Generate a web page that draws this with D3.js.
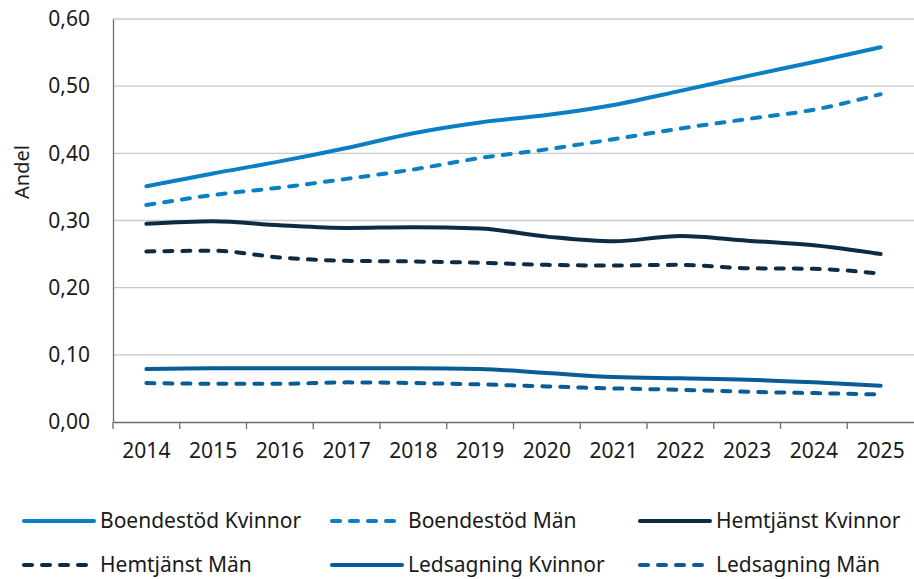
<!DOCTYPE html>
<html>
<head>
<meta charset="utf-8">
<script src="https://cdn.jsdelivr.net/npm/d3@7"></script>
<style>
  body { margin: 0; background: #fff; }
  text { font-family: "Noto Sans", "Open Sans", sans-serif; fill: #1a1a1a; }
</style>
</head>
<body>
<div id="chart"></div>
<script>
const years = ['2014','2015','2016','2017','2018','2019','2020','2021','2022','2023','2024','2025'];
const yTicks = [0, 0.1, 0.2, 0.3, 0.4, 0.5, 0.6];

const boendestodKvinnor = [0.351, 0.370, 0.388, 0.408, 0.430, 0.446, 0.457, 0.472, 0.493, 0.515, 0.536, 0.558];
const boendestodMan     = [0.323, 0.338, 0.349, 0.362, 0.376, 0.393, 0.406, 0.421, 0.437, 0.451, 0.465, 0.488];
const hemtjanstKvinnor  = [0.295, 0.299, 0.293, 0.289, 0.290, 0.288, 0.276, 0.269, 0.277, 0.270, 0.263, 0.250];
const hemtjanstMan      = [0.254, 0.255, 0.245, 0.240, 0.239, 0.237, 0.234, 0.233, 0.234, 0.229, 0.228, 0.221];
const ledsagningKvinnor = [0.079, 0.080, 0.080, 0.080, 0.080, 0.079, 0.073, 0.067, 0.065, 0.063, 0.059, 0.054];
const ledsagningMan     = [0.058, 0.057, 0.057, 0.059, 0.058, 0.056, 0.053, 0.050, 0.048, 0.045, 0.043, 0.041];

const seriesNames = ['Boendestöd Kvinnor', 'Boendestöd Män', 'Hemtjänst Kvinnor', 'Hemtjänst Män', 'Ledsagning Kvinnor', 'Ledsagning Män'];
const seriesValues = [boendestodKvinnor, boendestodMan, hemtjanstKvinnor, hemtjanstMan, ledsagningKvinnor, ledsagningMan];
const seriesColors = ['#0b7fc4', '#0b7fc4', '#0c2b45', '#0c2b45', '#0a5c96', '#0a5c96'];
const seriesDashed = [false, true, false, true, false, true];

let width = 914,
    height = 579,
    margin = {top: 19, right: 0, bottom: 157, left: 113};

const svg = d3.select('#chart')
  .append('svg')
    .attr('width', width)
    .attr('height', height);

const x = d3.scaleBand()
  .domain(years)
  .range([margin.left, width - margin.right]);

const y = d3.scaleLinear()
  .domain([0, 0.6])
  .range([height - margin.bottom, margin.top]);

const fmt = d => d3.format('.2f')(d).replace('.', ',');

// gridlines
svg.append('g')
  .selectAll('line')
  .data(yTicks.filter(d => d > 0))
  .enter().append('line')
    .attr('x1', margin.left)
    .attr('x2', width - margin.right)
    .attr('y1', d => y(d))
    .attr('y2', d => y(d))
    .attr('stroke', '#c9c9c9')
    .attr('stroke-width', 1.3);

// y axis
const yAxis = svg.append('g')
  .attr('transform', 'translate(' + margin.left + ',0)')
  .call(d3.axisLeft(y).tickValues(yTicks).tickFormat(fmt).tickSize(0).tickPadding(23));
yAxis.select('.domain').attr('stroke', '#6e6e6e').attr('stroke-width', 1.3);
yAxis.selectAll('text').style('font-size', '21px').attr('fill', '#1a1a1a');

// x axis with ticks between categories
const xAxis = svg.append('g')
  .attr('transform', 'translate(0,' + y(0) + ')')
  .call(d3.axisBottom(x).tickSize(0).tickPadding(21));
xAxis.select('.domain').attr('stroke', '#6e6e6e').attr('stroke-width', 1.3);
xAxis.selectAll('text').style('font-size', '21px').attr('fill', '#1a1a1a');
xAxis.selectAll('.sep')
  .data(years)
  .enter().append('line')
    .attr('class', 'sep')
    .attr('x1', d => x(d))
    .attr('x2', d => x(d))
    .attr('y1', 0)
    .attr('y2', 7)
    .attr('stroke', '#6e6e6e')
    .attr('stroke-width', 1.3);

// y title
svg.append('text')
  .attr('transform', 'translate(29,172) rotate(-90)')
  .attr('text-anchor', 'middle')
  .style('font-size', '20px')
  .text('Andel');

// lines
const line = d3.line()
  .x((d, i) => x(years[i]) + x.bandwidth() / 2)
  .y(d => y(d))
  .curve(d3.curveMonotoneX);

svg.append('g')
  .selectAll('path')
  .data(seriesValues)
  .enter().append('path')
    .attr('d', line)
    .attr('fill', 'none')
    .attr('stroke', (d, i) => seriesColors[i])
    .attr('stroke-width', 4)
    .attr('stroke-linecap', 'round')
    .attr('stroke-linejoin', 'round')
    .attr('stroke-dasharray', (d, i) => seriesDashed[i] ? '8,10' : null);

// legend
const legendCols = [22, 330, 638];
const legendRows = [521, 565];
const legend = svg.append('g')
  .selectAll('g')
  .data(seriesNames)
  .enter().append('g')
    .attr('transform', (d, i) => 'translate(' + legendCols[i % 3] + ',' + legendRows[Math.floor(i / 3)] + ')');

legend.append('line')
  .attr('x1', 2)
  .attr('x2', 72)
  .attr('y1', 0)
  .attr('y2', 0)
  .attr('stroke', (d, i) => seriesColors[i])
  .attr('stroke-width', 4)
  .attr('stroke-linecap', 'round')
  .attr('stroke-dasharray', (d, i) => seriesDashed[i] ? '8,10' : null);

legend.append('text')
  .attr('x', 78)
  .attr('y', 0)
  .attr('dy', '0.35em')
  .style('font-size', '21px')
  .text(d => d);
</script>
</body>
</html>
